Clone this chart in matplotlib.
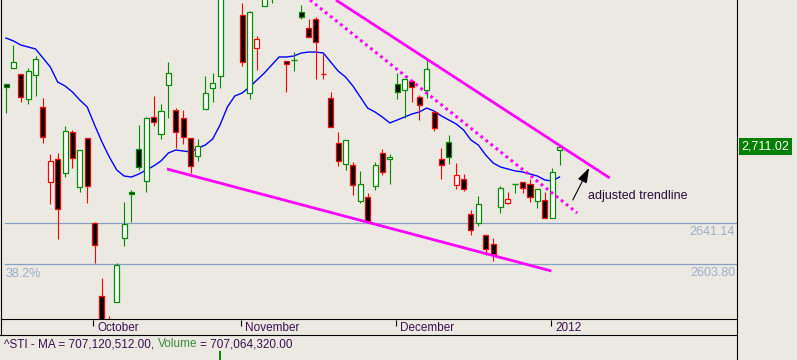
import matplotlib
matplotlib.use("Agg")
import matplotlib.pyplot as plt
import matplotlib.transforms as mtransforms
from matplotlib.patches import Rectangle
from matplotlib.lines import Line2D

plt.rcParams['font.family'] = ['Liberation Sans', 'DejaVu Sans']

# ^STI daily bars (index 0 = first visible bar)
opens = [2768.0, 2782.6, 2777.1, 2754.3, 2776.2, 2747.1, 2678.8, 2699.7, 2686.9, 2724.3,
         2674.2, 2718.8, 2641.4, 2574.9, 2551.3, 2569.5, 2627.8, 2669.6, 2708.8, 2679.7,
         2737.9, 2722.5, 2767.1, 2744.3, 2737.0, 2718.8, 2702.4, 2745.2, 2764.4, 2775.3,
         2855.0, 2872.0, 2830.8, 2759.8, 2800.8, 2839.0, 2852.0, 2860.0, 2789.0, 2789.9,
         2833.6, 2819.0, 2827.2, 2777.1, 2755.3, 2714.3, 2695.1, 2694.2, 2661.4, 2665.1,
         2675.1, 2705.2, 2699.7, 2768.0, 2762.5, 2770.7, 2756.2, 2762.5, 2742.5, 2699.7,
         2715.2, 2676.0, 2681.5, 2649.6, 2641.4, 2630.5, 2622.3, 2656.0, 2659.6, 2676.9,
         2678.8, 2676.9, 2661.4, 2662.4, 2646.0, 2707.9]
highs = [2768.0, 2803.5, 2777.1, 2782.6, 2793.5, 2755.3, 2704.3, 2705.2, 2729.8, 2726.1,
         2707.9, 2718.8, 2642.3, 2591.3, 2556.7, 2605.0, 2660.5, 2671.5, 2730.7, 2737.9,
         2757.1, 2749.8, 2788.0, 2746.1, 2744.3, 2718.8, 2717.9, 2775.3, 2778.0, 2858.0,
         2876.0, 2882.0, 2841.8, 2834.5, 2811.7, 2860.0, 2868.0, 2866.0, 2789.0, 2797.1,
         2840.0, 2827.2, 2829.0, 2795.3, 2760.7, 2724.3, 2717.0, 2697.0, 2688.8, 2668.7,
         2697.0, 2708.8, 2704.3, 2778.0, 2772.6, 2771.6, 2758.0, 2790.8, 2743.4, 2709.7,
         2721.6, 2696.1, 2686.0, 2653.3, 2666.0, 2630.5, 2627.8, 2675.1, 2669.6, 2676.9,
         2678.8, 2681.5, 2672.4, 2669.6, 2691.5, 2711.02]
lows = [2741.6, 2782.6, 2751.6, 2749.8, 2757.1, 2714.3, 2658.7, 2626.8, 2683.3, 2691.5,
        2669.6, 2659.6, 2605.0, 2544.0, 2535.0, 2569.5, 2620.5, 2642.3, 2689.7, 2669.6,
        2729.8, 2717.9, 2737.0, 2709.7, 2713.4, 2686.9, 2697.9, 2745.2, 2751.6, 2764.4,
        2847.0, 2850.0, 2784.4, 2754.3, 2780.8, 2839.0, 2841.8, 2846.0, 2760.7, 2779.8,
        2827.2, 2810.8, 2772.6, 2772.6, 2728.8, 2693.3, 2689.7, 2666.9, 2659.6, 2643.2,
        2671.5, 2685.1, 2676.9, 2754.3, 2737.0, 2751.6, 2735.2, 2755.3, 2725.2, 2681.5,
        2695.1, 2672.4, 2670.6, 2630.5, 2638.7, 2612.3, 2606.8, 2650.5, 2658.7, 2668.7,
        2668.7, 2660.5, 2655.1, 2646.0, 2646.0, 2694.2]
closes = [2765.3, 2788.0, 2756.2, 2779.8, 2790.8, 2719.7, 2697.9, 2654.2, 2725.2, 2700.6,
          2707.9, 2675.1, 2621.4, 2548.5, 2540.0, 2603.2, 2640.5, 2667.8, 2692.4, 2737.0,
          2733.4, 2743.4, 2778.0, 2724.3, 2719.7, 2693.3, 2711.5, 2759.8, 2768.9, 2852.0,
          2868.0, 2858.0, 2788.0, 2833.6, 2809.0, 2855.0, 2862.0, 2850.0, 2786.2, 2789.9,
          2829.0, 2810.8, 2806.3, 2777.1, 2728.8, 2697.9, 2717.0, 2676.0, 2676.9, 2643.2,
          2694.2, 2687.9, 2701.5, 2760.7, 2772.6, 2765.3, 2748.9, 2781.7, 2727.9, 2694.2,
          2701.5, 2685.1, 2672.4, 2635.0, 2658.7, 2617.7, 2613.2, 2673.3, 2663.3, 2676.9,
          2673.3, 2665.1, 2672.4, 2646.0, 2687.9, 2711.02]
ma = [2809.9, 2807.2, 2803.5, 2801.7, 2799.9, 2791.7, 2783.5, 2769.8, 2766.2, 2760.7,
      2753.4, 2747.1, 2730.7, 2715.2, 2701.5, 2689.7, 2684.2, 2683.3, 2686.0, 2689.7,
      2693.3, 2697.9, 2705.2, 2707.9, 2707.0, 2706.1, 2709.7, 2712.4, 2717.9, 2730.7,
      2747.1, 2757.1, 2759.8, 2765.3, 2771.6, 2778.0, 2785.3, 2792.6, 2792.6, 2793.5,
      2796.2, 2797.1, 2797.1, 2796.2, 2788.0, 2779.8, 2774.4, 2766.2, 2756.2, 2746.1,
      2742.5, 2737.9, 2732.5, 2735.2, 2737.9, 2740.7, 2742.5, 2746.1, 2743.4, 2738.9,
      2735.2, 2731.6, 2726.1, 2717.0, 2712.4, 2703.3, 2696.1, 2692.4, 2690.6, 2688.8,
      2687.9, 2686.0, 2684.2, 2680.6, 2679.7, 2683.3]

month_labels = ['October', 'November', 'December', '2012']
month_start = [12, 32, 53, 74]          # bar index of first trading day

fib_levels = [2641.14, 2603.80]
fib_pct_label = '38.2%'

# trendlines as (bar index, price) end points
upper_x, upper_y = [44.7, 81.8], [2844.5, 2682.4]
dotted_x, dotted_y = [41.2, 77.4], [2844.5, 2650.5]
support_x, support_y = [21.8, 73.9], [2690.6, 2597.7]
note_text = 'adjusted trendline'
note_xy = (76.8, 2663.3)
arrow_from, arrow_to = (76.8, 2662.4), (79.0, 2691.5)

vol_idx = 29
vol_value = 707064320.00
vol_ma = 707120512.00

BG = '#ece9e2'
GREEN = '#008c00'
RED = '#ff0000'
MAGENTA = '#ff00ff'
W, H = 797, 360

fig = plt.figure(figsize=(W / 100, H / 100), dpi=100, facecolor=BG)

# main price panel
ax = fig.add_axes([1 / W, (H - 319.3) / H, 735.5 / W, 319.3 / H], facecolor=BG)
xlim = (-0.68, 98.98)
ax.set_xlim(*xlim)
ax.set_ylim(2553.7, 2844.5)
ax.set_xticks([])
ax.set_yticks([])
ax.spines['top'].set_visible(False)
for s in ('left', 'right', 'bottom'):
    ax.spines[s].set_linewidth(0.8)
    ax.spines[s].set_color('black')

trans = mtransforms.blended_transform_factory(ax.transAxes, ax.transData)

# fibonacci levels
for lvl in fib_levels:
    ax.axhline(lvl, xmin=4 / 735.5, color='#86a0c4', lw=0.9, zorder=1)
    ax.annotate(f'{lvl:.2f}', xy=(1, lvl), xycoords=trans, xytext=(-1, -8.4),
                textcoords='offset points', ha='right', va='baseline',
                fontsize=9, color='#9aaecc')
ax.annotate(fib_pct_label, xy=(0, fib_levels[1]), xycoords=trans, xytext=(3.3, -8.9),
            textcoords='offset points', ha='left', va='baseline',
            fontsize=9, color='#9aaecc')

# moving average
ax.plot(range(len(ma)), ma, color='#0000ff', lw=1.0, zorder=2)

# candles
bw = 0.68
for i in range(len(closes)):
    o, h, l, c = opens[i], highs[i], lows[i], closes[i]
    edge = GREEN if (i == 0 or c >= closes[i - 1]) else RED
    ax.vlines(i, l, h, color=edge, lw=0.8, zorder=3)
    if c == o:
        ax.hlines(c, i - 0.38, i + 0.38, color=edge, lw=1.0, zorder=4)
    else:
        ax.add_patch(Rectangle((i - bw / 2, min(o, c)), bw, abs(c - o),
                               facecolor='white' if c > o else 'black',
                               edgecolor=edge, lw=0.9, zorder=4))

# trendlines
ax.plot(upper_x, upper_y, color=MAGENTA, lw=2.0, solid_capstyle='butt', zorder=5)
ax.plot(support_x, support_y, color=MAGENTA, lw=2.0, solid_capstyle='butt', zorder=5)
ax.plot(dotted_x, dotted_y, color=MAGENTA, lw=2.2, dashes=(0.9, 1.2),
        dash_capstyle='butt', zorder=5)

ax.annotate('', xy=arrow_to, xytext=arrow_from,
            arrowprops=dict(arrowstyle='-|>,head_length=0.75,head_width=0.25',
                            mutation_scale=12, color='black', lw=0.8,
                            shrinkA=0, shrinkB=0), zorder=6)
ax.text(note_xy[0] + 2.1, note_xy[1], note_text, ha='left', va='baseline',
        fontsize=9, color='#2a0a3a', zorder=6)

# last price tag
ax.annotate(f'{closes[-1]:,.2f}', xy=(1, closes[-1]), xycoords=trans,
            xytext=(3.6, 0), textcoords='offset points', ha='left', va='center',
            fontsize=9, color='white', annotation_clip=False,
            bbox=dict(boxstyle='square,pad=0.22', fc='#008000', ec='none'))

# date strip
ax_d = fig.add_axes([1 / W, (H - 335) / H, 735.5 / W, 15.7 / H])
ax_d.set_xlim(*xlim)
ax_d.set_ylim(0, 1)
ax_d.axis('off')
for idx, lab in zip(month_start, month_labels):
    ax_d.vlines(idx - 0.15, 0.55, 0.95, color='black', lw=0.8)
    ax_d.text(idx + 0.4, 0.27, lab, ha='left', va='baseline',
              fontsize=8.5, color='#3a1050')

# volume strip
ax_v = fig.add_axes([1 / W, 0, 735.5 / W, 25 / H], facecolor=BG)
ax_v.set_xlim(*xlim)
ax_v.set_ylim(0, vol_value * 25 / 9)
ax_v.axis('off')
ax_v.bar([vol_idx], [vol_value], width=0.3, color=GREEN)

base = 1 - 347.3 / H
fig.text(4 / W, base, f'^STI - MA = {vol_ma:,.2f},', fontsize=8.5,
         color='#3a1050', va='baseline')
fig.text(157.5 / W, base, 'Volume', fontsize=8.5, color='#3a8a3a', va='baseline')
fig.text(200 / W, base, f'= {vol_value:,.2f}', fontsize=8.5,
         color='#3a1050', va='baseline')

# frame lines outside the price panel
fig.add_artist(Line2D([736.5 / W] * 2, [0, (H - 319.3) / H], color='black', lw=0.8))
fig.add_artist(Line2D([0, 736.5 / W], [(H - 335) / H] * 2, color='black', lw=0.8))
fig.add_artist(Line2D([0.6 / W] * 2, [(H - 335) / H, (H - 319.3) / H], color='black', lw=0.8))

fig.savefig('out.png', dpi=100, facecolor=BG)
